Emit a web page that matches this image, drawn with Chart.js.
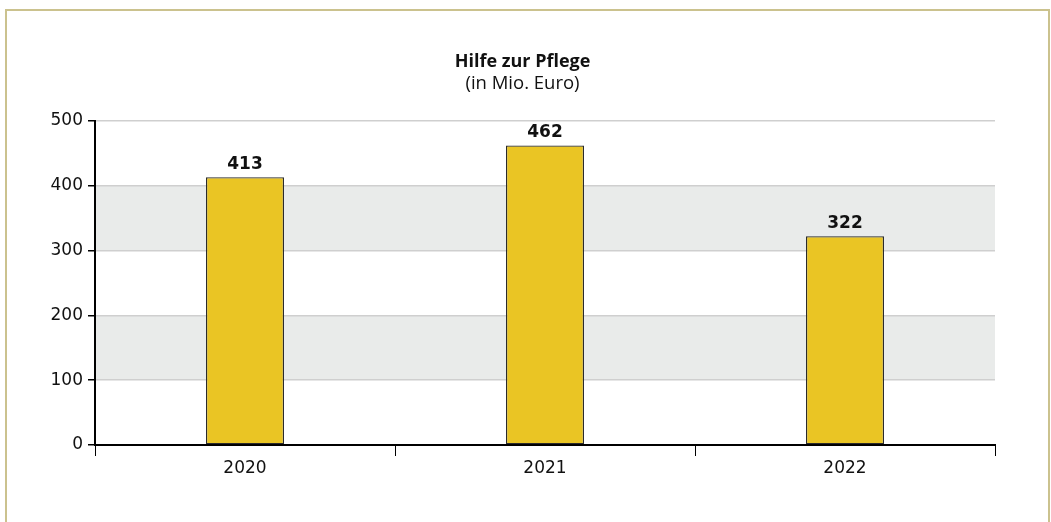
<!DOCTYPE html>
<html lang="de">
<head>
  <meta charset="UTF-8">
  <title>Hilfe zur Pflege</title>
  <script src="https://cdn.jsdelivr.net/npm/chart.js"></script>
  <style>
    html, body {
      margin: 0;
      padding: 0;
      background: #ffffff;
      overflow: hidden;
    }

    .frame {
      position: absolute;
      left: 5px;
      top: 9px;
      width: 1041px;
      height: 600px;
      border: 2px solid #cbc28e;
    }

    #chart {
      position: absolute;
      left: 0;
      top: 0;
    }
  </style>
</head>
<body>

  <div class="frame"></div>
  <canvas id="chart" width="1051" height="522"></canvas>

  <script>
    // Daten
    const years = ['2020', '2021', '2022'];
    const pflegeWerte = [413, 462, 322];
    const yTicks = [0, 100, 200, 300, 400, 500];
    // graue Bänder hinter den Balken
    const bands = [[100, 200], [300, 400]];

    const bandPlugin = {
      id: 'bands',
      beforeDraw(chart) {
        const { ctx, chartArea, scales } = chart;
        ctx.save();
        ctx.fillStyle = '#e9ebea';
        bands.forEach(([lo, hi]) => {
          const top = scales.y.getPixelForValue(hi);
          const bottom = scales.y.getPixelForValue(lo);
          ctx.fillRect(chartArea.left, top, chartArea.right - chartArea.left, bottom - top);
        });
        ctx.restore();
      }
    };

    const valueLabels = {
      id: 'valueLabels',
      afterDatasetsDraw(chart) {
        const { ctx } = chart;
        const meta = chart.getDatasetMeta(0);
        ctx.save();
        ctx.font = 'bold 17px "DejaVu Sans"';
        ctx.fillStyle = '#111';
        ctx.textAlign = 'center';
        ctx.textBaseline = 'bottom';
        meta.data.forEach((bar, i) => {
          ctx.fillText(String(pflegeWerte[i]), bar.x, bar.y - 4);
        });
        ctx.restore();
      }
    };

    const ctx = document.getElementById('chart').getContext('2d');

    new Chart(ctx, {
      type: 'bar',
      data: {
        labels: years,
        datasets: [{
          data: pflegeWerte,
          backgroundColor: '#eac524',
          borderColor: '#2b2b2b',
          borderWidth: 1.3,
          borderSkipped: false,
          barPercentage: 0.52,
          categoryPercentage: 0.5
        }]
      },
      options: {
        responsive: false,
        animation: false,
        layout: {
          padding: { top: 51, left: 50, right: 56, bottom: 47 }
        },
        plugins: {
          legend: { display: false },
          tooltip: { enabled: false },
          title: {
            display: true,
            text: 'Hilfe zur Pflege',
            color: '#111',
            font: { family: '"Open Sans"', size: 18, weight: 'bold', lineHeight: 1.2 },
            padding: { top: 0, bottom: 0 }
          },
          subtitle: {
            display: true,
            text: '(in Mio. Euro)',
            color: '#111',
            font: { family: '"Open Sans"', size: 18.5, lineHeight: 1.2 },
            padding: { top: 0, bottom: 26 }
          }
        },
        scales: {
          x: {
            offset: true,
            grid: {
              offset: true,
              drawOnChartArea: false,
              drawTicks: true,
              tickLength: 11,
              tickColor: '#000',
              tickWidth: 1
            },
            border: { color: '#000', width: 2 },
            ticks: {
              color: '#111',
              padding: 2,
              font: { family: '"DejaVu Sans"', size: 17 }
            },
            afterFit(scale) { scale.height = 30; }
          },
          y: {
            min: 0,
            max: 500,
            afterBuildTicks(scale) {
              scale.ticks = yTicks.map(v => ({ value: v }));
            },
            grid: {
              color: '#cfcfcf',
              lineWidth: 1.5,
              tickLength: 7,
              tickColor: '#000',
              tickWidth: 1.5
            },
            border: { color: '#000', width: 2 },
            ticks: {
              color: '#111',
              padding: 5,
              font: { family: '"DejaVu Sans"', size: 17 }
            },
            afterFit(scale) { scale.width = 45; }
          }
        }
      },
      plugins: [bandPlugin, valueLabels]
    });
  </script>

</body>
</html>
